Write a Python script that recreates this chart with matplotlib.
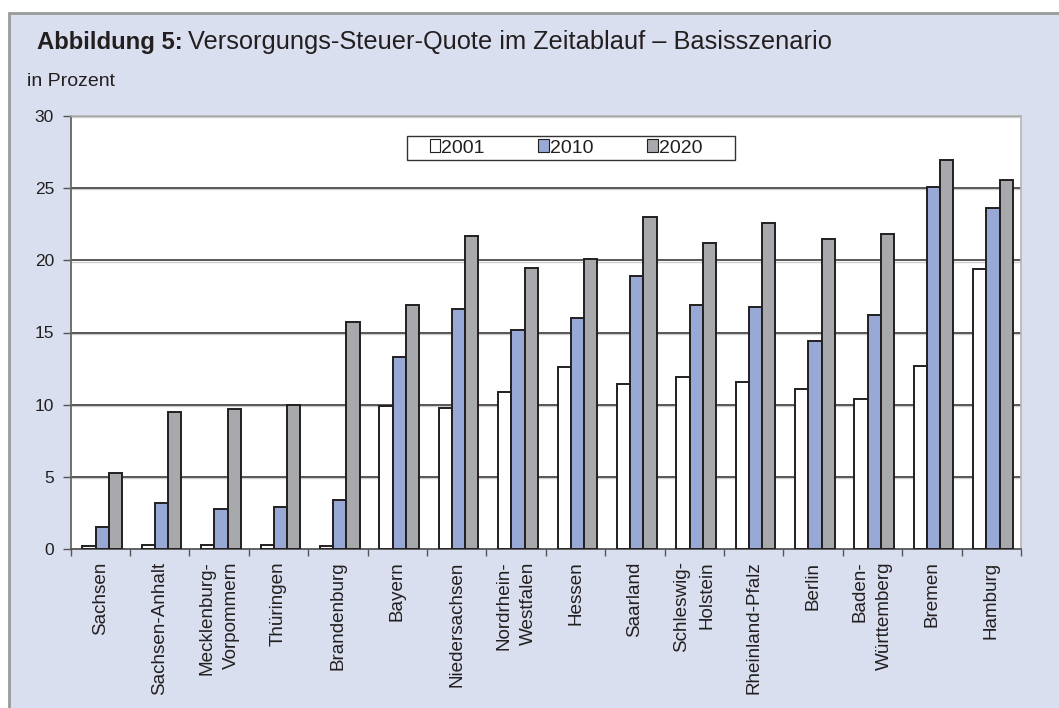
import numpy as np
import matplotlib
matplotlib.use("Agg")
import matplotlib.pyplot as plt
from matplotlib.patches import Rectangle

plt.rcParams['font.family'] = ['Liberation Sans', 'DejaVu Sans']

laender = ["Sachsen", "Sachsen-Anhalt", "Mecklenburg-\nVorpommern", "Thüringen",
           "Brandenburg", "Bayern", "Niedersachsen", "Nordrhein-\nWestfalen", "Hessen",
           "Saarland", "Schleswig-\nHolstein", "Rheinland-Pfalz", "Berlin",
           "Baden-\nWürttemberg", "Bremen", "Hamburg"]
jahre = ["2001", "2010", "2020"]
q2001 = [0.2, 0.3, 0.3, 0.3, 0.2, 9.9, 9.8, 10.9, 12.6, 11.4, 11.9, 11.6, 11.1, 10.4, 12.7, 19.4]
q2010 = [1.5, 3.2, 2.8, 2.9, 3.4, 13.3, 16.6, 15.2, 16.0, 18.9, 16.9, 16.8, 14.4, 16.2, 25.1, 23.6]
q2020 = [5.3, 9.5, 9.7, 9.95, 15.7, 16.9, 21.7, 19.5, 20.1, 23.0, 21.2, 22.6, 21.5, 21.8, 26.95, 25.6]

bg = '#d9dfee'
farben = ['white', '#99a9d5', '#a7a9ac']
kante = '#231f20'
txt = '#231f20'

fig = plt.figure(figsize=(10.59, 7.08), dpi=100)
fig.patch.set_facecolor('white')
# Rahmen
fig.patches.append(Rectangle((9/1059, -0.05), 1.1, 1 - 13/708 + 0.05, transform=fig.transFigure,
                             facecolor=bg, edgecolor='#9a9a9a', lw=2, zorder=-10))

ax = fig.add_axes([70.7/1059, 1 - 549/708, (1021 - 70.7)/1059, (549 - 116)/708])
ax.set_facecolor('white')

x = np.arange(len(laender))
w = 1 / 4.5
for i, (werte, farbe, jahr) in enumerate(zip([q2001, q2010, q2020], farben, jahre)):
    ax.bar(x + (i - 1) * w + 0.03, werte, width=w, color=farbe, edgecolor=kante,
           linewidth=1.4, label=jahr, zorder=3)

ax.set_xlim(-0.5, len(laender) - 0.5)
ax.set_ylim(0, 30)
yt = np.arange(0, 31, 5)
ax.set_yticks(yt)
ax.set_yticklabels([str(v) for v in yt], fontsize=12.5, color=txt)
for v in yt[1:]:
    ax.axhline(v, color='#2b2b2b', lw=1.1, zorder=1)
    ax.axhline(v - 0.09, color='#cfcfcf', lw=1.0, zorder=0.9)

ax.set_xticks(x)
ax.set_xticklabels(laender, rotation=90, fontsize=13.6, va='top', ha='center',
                   multialignment='right', color=txt, linespacing=1.6)
ax.set_xticks(np.arange(-0.5, len(laender), 1), minor=True)
ax.tick_params(axis='x', which='major', length=0, pad=9)
ax.tick_params(axis='x', which='minor', length=5, width=1, color='#555555', direction='out')
ax.tick_params(axis='y', length=6, width=1, color='#555555', pad=6)

for s in ['top', 'right']:
    ax.spines[s].set_color('#b5b5b5')
    ax.spines[s].set_linewidth(1.2)
ax.spines['left'].set_color('#666666')
ax.spines['left'].set_linewidth(1.3)
ax.spines['bottom'].set_color('#555555')
ax.spines['bottom'].set_linewidth(1.3)

# Legende mit eigenem Rahmen
fig.patches.append(Rectangle((407/1059, 1 - 160/708), 328/1059, 24/708, transform=fig.transFigure,
                             facecolor='white', edgecolor='#333333', lw=1.0, zorder=5))
leg = ax.legend(ncol=3, loc='center', bbox_to_anchor=(566/1059, 1 - 148/708),
                bbox_transform=fig.transFigure, frameon=False,
                fontsize=14, handlelength=0.55, handleheight=0.6, handletextpad=0.05,
                columnspacing=2.75, borderpad=0.15, borderaxespad=0)
leg.set_zorder(6)
for h in leg.legend_handles:
    h.set_linewidth(0.8)
for t in leg.get_texts():
    t.set_color(txt)
fig.legends.append(leg)
ax.get_legend().remove()

t1 = fig.text(37/1059, 1 - 49/708, "Abbildung 5:", fontsize=17.2, fontweight='bold',
              color=txt, va='baseline')
r = fig.canvas.get_renderer()
bb = t1.get_window_extent(renderer=r)
fig.text((bb.x1 + 5)/1059, 1 - 49/708, "Versorgungs-Steuer-Quote im Zeitablauf – Basisszenario",
         fontsize=18.3, color=txt, va='baseline')
fig.text(27/1059, 1 - 81/708, "in Prozent", fontsize=14, color=txt, va='center')

fig.savefig("out.png", dpi=100, facecolor=fig.get_facecolor())
